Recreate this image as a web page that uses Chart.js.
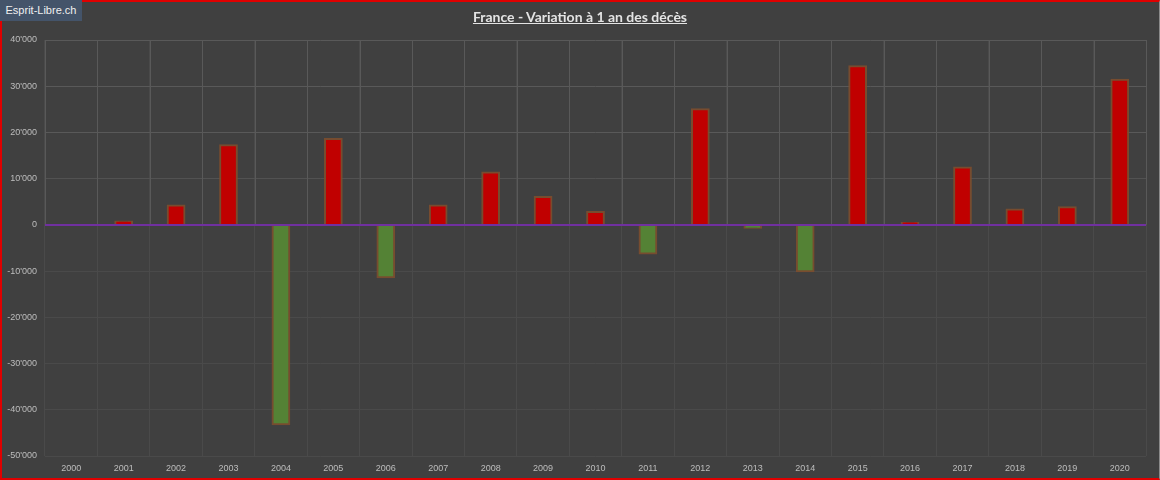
<!DOCTYPE html>
<html>
<head>
<meta charset="utf-8">
<script src="https://cdn.jsdelivr.net/npm/chart.js@4"></script>
<style>
  body { margin: 0; background: #404040; }
  #wrap { position: relative; width: 1160px; height: 480px; background: #404040; }
  #frame { position: absolute; left: 0; top: 0; width: 1160px; height: 480px; box-sizing: border-box;
           border-top: 2px solid #e00000; border-left: 2px solid #e00000; border-bottom: 2px solid #e00000;
           border-right: 1px solid #8a8a8a; pointer-events: none; }
  #brand { position: absolute; left: 0; top: 0; width: 82px; height: 21px; background: #44546a;
           color: #f0f0f0; font: 11px "Liberation Sans", Arial, sans-serif; line-height: 21px; text-align: center; }
  #title { position: absolute; left: 0; top: 8px; width: 1160px; text-align: center;
           color: #e4e4e4; font: bold 14px Lato, "Open Sans", sans-serif; text-decoration: underline; }
</style>
</head>
<body>
<div id="wrap">
  <canvas id="chart" width="1160" height="480"></canvas>
  <div id="title">France - Variation à 1 an des décès</div>
  <div id="frame"></div>
  <div id="brand">Esprit-Libre.ch</div>
</div>
<script>
var years = ['2000', '2001', '2002', '2003', '2004', '2005', '2006', '2007', '2008', '2009', '2010',
             '2011', '2012', '2013', '2014', '2015', '2016', '2017', '2018', '2019', '2020'];
var variation = [0, 600, 4100, 17100, -43000, 18500, -11200, 4100, 11200, 5900, 2700,
                 -6100, 24900, -500, -9900, 34200, 300, 12300, 3200, 3700, 31300];
var yMin = -50000;
var yMax = 40000;
var yStep = 10000;

function fmt(v) {
    var s = String(Math.abs(v)).replace(/\B(?=(\d{3})+(?!\d))/g, "'");
    return (v < 0 ? '-' : '') + s;
}

var barColors = variation.map(function(v) { return v < 0 ? '#548235' : '#c00000'; });

// grid above zero is brighter than below, zero line drawn on top in purple
var splitGrid = {
    id: 'splitGrid',
    beforeDatasetsDraw: function(chart) {
        var x = chart.scales.x, y = chart.scales.y, c = chart.ctx;
        var zero = y.getPixelForValue(0);
        var half = (x.getPixelForTick(1) - x.getPixelForTick(0)) / 2;
        c.save();
        c.strokeStyle = '#595959';
        c.lineWidth = 1;
        for (var i = 0; i <= years.length; i++) {
            var px = Math.round(x.getPixelForTick(Math.min(i, years.length - 1)) + (i < years.length ? -half : half)) + 0.5;
            c.beginPath();
            c.moveTo(px, chart.chartArea.top);
            c.lineTo(px, zero);
            c.stroke();
        }
        c.restore();
    },
    afterDatasetsDraw: function(chart) {
        var y = chart.scales.y, c = chart.ctx, a = chart.chartArea;
        var zero = y.getPixelForValue(0);
        c.save();
        c.strokeStyle = '#7030a0';
        c.lineWidth = 2;
        c.beginPath();
        c.moveTo(a.left, zero);
        c.lineTo(a.right, zero);
        c.stroke();
        c.restore();
    }
};

new Chart(document.getElementById('chart').getContext('2d'), {
    type: 'bar',
    data: {
        labels: years,
        datasets: [{
            data: variation,
            backgroundColor: barColors,
            borderColor: 'rgba(125,78,45,0.9)',
            borderWidth: 2,
            borderSkipped: false,
            inflateAmount: 1.5,
            barPercentage: 0.3,
            categoryPercentage: 1
        }]
    },
    options: {
        responsive: false,
        animation: false,
        layout: { padding: { top: 40, right: 14, left: 0, bottom: 0 } },
        plugins: {
            legend: { display: false },
            tooltip: { enabled: false }
        },
        scales: {
            x: {
                afterFit: function(scale) { scale.height = 24; },
                grid: { color: '#4a4a4a', drawTicks: false, offset: true },
                border: { display: false },
                ticks: { color: '#bdbdbd', padding: 7, font: { family: 'Liberation Sans', size: 9 } }
            },
            y: {
                min: yMin,
                max: yMax,
                afterFit: function(scale) { scale.width = 45; },
                grid: {
                    drawTicks: false,
                    color: function(ctx) {
                        var v = ctx.tick ? ctx.tick.value : 0;
                        if (v > 10000) return '#595959';
                        if (v > 0) return '#525252';
                        return '#4a4a4a';
                    }
                },
                border: { display: false },
                ticks: {
                    stepSize: yStep,
                    color: '#bdbdbd',
                    padding: 8,
                    font: { family: 'Liberation Sans', size: 9 },
                    callback: function(v) { return fmt(v); }
                }
            }
        }
    },
    plugins: [splitGrid]
});
</script>
</body>
</html>
